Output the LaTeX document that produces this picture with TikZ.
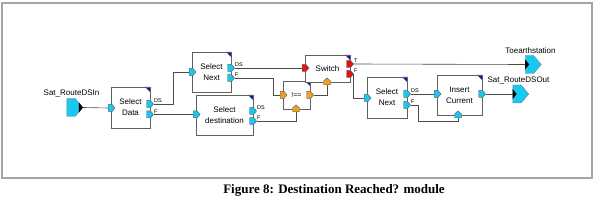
\documentclass[tikz,border=0pt]{standalone}
\usepackage{fontspec}
\setmainfont{Liberation Sans}
\newfontfamily\capfont{Liberation Serif}
\usetikzlibrary{shapes.symbols}
\definecolor{pcyan}{RGB}{25,200,240}
\definecolor{porange}{RGB}{240,160,30}
\definecolor{pred}{RGB}{225,20,20}
\definecolor{cblue}{RGB}{20,20,170}
\definecolor{framegray}{RGB}{165,165,165}
\begin{document}
\begin{tikzpicture}[x=1pt,y=-1pt,
  blk/.style={draw=gray!75!black, fill=white, line width=0.6pt, inner sep=0pt, align=center,
    font=\fontsize{8}{11}\selectfont,
    path picture={\fill[cblue] (path picture bounding box.north east) -- ++(-5pt,0pt) -- ++(5pt,-5pt) -- cycle;}},
  pE/.style={rectangle, minimum width=7pt, minimum height=7pt, inner sep=0pt,
    path picture={\filldraw[fill=#1, draw=black!60, line width=0.5pt]
      (path picture bounding box.south west) -- ++(4pt,0pt) -- ++(3pt,3.5pt) -- ++(-3pt,3.5pt) -- ++(-4pt,0pt) -- cycle;}},
  pN/.style={rectangle, minimum width=7pt, minimum height=7pt, inner sep=0pt,
    path picture={\filldraw[fill=#1, draw=black!60, line width=0.5pt]
      (path picture bounding box.south west) -- ++(0pt,4pt) -- ++(3.5pt,3pt) -- ++(3.5pt,-3pt) -- ++(0pt,-4pt) -- cycle;}},
  plab/.style={anchor=west, inner sep=0.3pt, yshift=3pt, font=\fontsize{5.5}{6}\selectfont},
  bigport/.style={signal, signal to=east, signal pointer angle=100, minimum width=16pt, minimum height=18pt,
    inner sep=0pt, fill=pcyan, draw=black!50, line width=0.3pt},
  lab/.style={font=\fontsize{8}{9}\selectfont, inner sep=0pt},
  wire/.style={draw=gray!60!black, line width=0.6pt}
]
\useasboundingbox (0,0) rectangle (600,203);
\draw[framegray, line width=1.6pt] (2,3) rectangle (592,178);

% blocks
\node[blk, minimum width=39pt, minimum height=41pt] (sd) at (130.5,107.5) {Select\\Data};
\node[blk, minimum width=39pt, minimum height=40pt] (sn1) at (211.5,72) {Select\\Next};
\node[blk, minimum width=57pt, minimum height=40pt] (sdst) at (224.5,115) {Select\\destination};
\node[blk, minimum width=27pt, minimum height=28pt, font=\fontsize{7}{8}\selectfont] (ne) at (296.5,95) {!==};
\node[blk, minimum width=45pt, minimum height=27pt] (sw) at (327.5,68.5) {Switch};
\node[blk, minimum width=40pt, minimum height=41pt] (sn2) at (387,97.5) {Select\\Next};
\node[blk, minimum width=45pt, minimum height=40pt] (ic) at (459.5,95) {Insert\\Current};

% external ports
\node[bigport] (inp) at (71,107.5) {};
\fill (inp.east) ++(-4,-5) -- (inp.east) -- ++(-4,5) -- cycle;
\node[lab] (inpl) at (71.5,94) {Sat\_RouteDSIn};
\node[bigport] (toe) at (529.5,64.5) {};
\fill (toe.west) ++(0,-5) -- ++(4,5) -- ++(-4,5) -- cycle;
\node[lab] (toel) at (530.5,51) {Toearthstation};
\node[bigport] (outp) at (517,94) {};
\fill (outp.west) ++(0,-5) -- ++(4,5) -- ++(-4,5) -- cycle;
\node[lab] (outpl) at (518.5,81) {Sat\_RouteDSOut};

% block ports
\node[pE=pcyan] (sdi) at (111.5,108) {};
\node[pE=pcyan] (sdds) at (150,104) {};
\node[pE=pcyan] (sdf) at (150,114.5) {};
\node[plab] at (sdds.east) {DS};
\node[plab] at (sdf.east) {F};

\node[pE=pcyan] (sn1i) at (192.5,72) {};
\node[pE=pcyan] (sn1ds) at (231,68) {};
\node[pE=pcyan] (sn1f) at (231,78) {};
\node[plab] at (sn1ds.east) {DS};
\node[plab] at (sn1f.east) {F};

\node[pE=pcyan] (sdsti) at (196.5,114.5) {};
\node[pE=pcyan] (sdstds) at (253,111) {};
\node[pE=pcyan] (sdstf) at (253,121) {};
\node[plab] at (sdstds.east) {DS};
\node[plab] at (sdstf.east) {F};

\node[pE=porange] (nei) at (283.5,95) {};
\node[pN=porange] (neb) at (296,108.5) {};
\node[pE=porange] (neo) at (310,95) {};

\node[pE=pred] (swi) at (305.5,68) {};
\node[pN=porange] (swb) at (327,81.5) {};
\node[pE=pred] (swt) at (350,64) {};
\node[pE=pred] (swf) at (350,74) {};
\node[plab] at (swt.east) {T};
\node[plab] at (swf.east) {F};

\node[pE=pcyan] (sn2i) at (367.5,98) {};
\node[pE=pcyan] (sn2ds) at (407,94) {};
\node[pE=pcyan] (sn2f) at (407,105) {};
\node[plab] at (sn2ds.east) {DS};
\node[plab] at (sn2f.east) {F};

\node[pE=pcyan] (ici) at (437.5,94) {};
\node[pN=pcyan] (icb) at (458,114.5) {};
\node[pE=pcyan] (ico) at (482,94) {};

% wires
\draw[wire] (inp.east) -- (sdi.west);
\draw[wire] (sdds.east) -- (173,104) |- (sn1i.west);
\draw[wire] (sdf.east) -- (sdsti.west);
\draw[wire] (sn1ds.east) -- (swi.west);
\draw[wire] (sn1f.east) -- (273,78) |- (nei.west);
\draw[wire] (sdstf.east) -| (neb.south);
\draw[wire] (neo.east) -| (swb.south);
\draw[wire] (swt.east) -- (toe.west);
\draw[wire] (swf.east) -- (353,74) |- (sn2i.west);
\draw[wire] (sn2ds.east) -- (ici.west);
\draw[wire] (sn2f.east) -- (418,105) -- (418,121) -| (icb.south);
\draw[wire] (ico.east) -- (outp.west);

% caption
\node[font=\capfont\bfseries\fontsize{13}{15}\selectfont, inner sep=0pt] (cap) at (334,190) {Figure 8: Destination Reached? module};
\end{tikzpicture}
\end{document}
